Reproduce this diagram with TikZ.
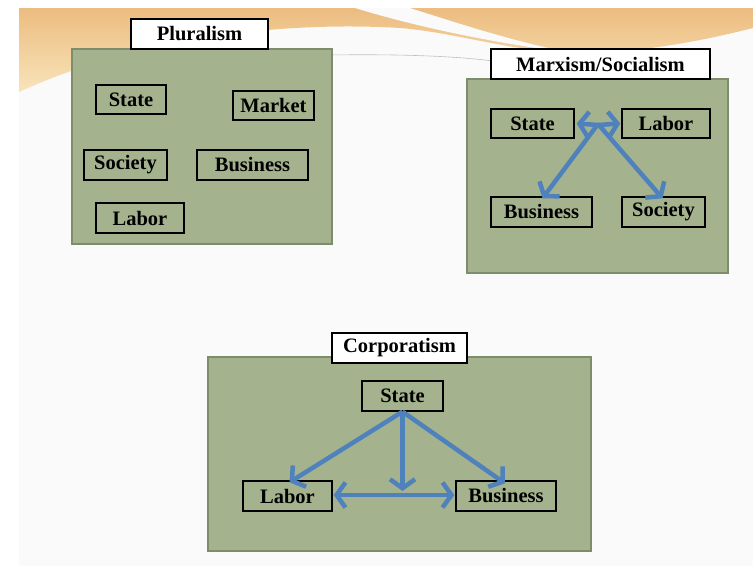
\documentclass[tikz,border=0pt]{standalone}
\usepackage{fontspec}
\setmainfont{Liberation Serif}
\usetikzlibrary{arrows.meta}
\definecolor{panelgreen}{RGB}{164,179,141}
\definecolor{panelborder}{RGB}{126,140,110}
\definecolor{arrowblue}{RGB}{79,129,189}
\definecolor{swooshtop}{RGB}{236,188,128}
\definecolor{swooshbot}{RGB}{248,228,186}
\definecolor{slidebg}{RGB}{250,250,250}
\tikzset{
  panel/.style={draw=panelborder, line width=1.8pt, fill=panelgreen, inner sep=0pt},
  titlebox/.style={draw=black, line width=1.4pt, fill=white, inner sep=0pt,
    font=\fontsize{20.5}{24}\selectfont\bfseries},
  itembox/.style={draw=black, line width=1.4pt, inner sep=0pt,
    font=\fontsize{20.5}{24}\selectfont\bfseries},
  arr/.style={draw=arrowblue, line width=4.5pt, -{Straight Barb[length=9pt,width=25pt]}},
  darr/.style={draw=arrowblue, line width=4.5pt, {Straight Barb[length=9pt,width=25pt]}-{Straight Barb[length=9pt,width=25pt]}}
}
\begin{document}
\begin{tikzpicture}[x=1pt,y=-1pt]
\useasboundingbox (0,0) rectangle (753,570);
\fill[white] (0,0) rectangle (753,570);
\fill[slidebg] (19,8) rectangle (753,566);
% swoosh
\shade[top color=swooshtop, bottom color=swooshbot]
  (19,8) -- (753,8) -- (753,28)
  .. controls (690,44) and (620,56) .. (555,52)
  .. controls (500,48) and (450,32) .. (400,28)
  .. controls (300,22) and (150,32) .. (19,92) -- cycle;
\fill[slidebg] (355,8) -- (410,8) .. controls (460,24) and (515,42) .. (572,53)
  .. controls (500,44) and (420,28) .. (355,8) -- cycle;
\draw[gray!50, line width=0.6pt] (330,55) .. controls (400,54) and (460,56) .. (500,62);

% ---------------- Pluralism
\node[panel, minimum width=260pt, minimum height=195pt] (pp) at (202,146.5) {};
\node[titlebox, minimum width=137pt, minimum height=30pt] (pt) at (199.5,34) {Pluralism};
\node[itembox, minimum width=70pt, minimum height=29pt] (ps) at (131,99.5) {State};
\node[itembox, minimum width=81pt, minimum height=29pt] (pm) at (273.5,105.5) {Market};
\node[itembox, minimum width=83pt, minimum height=30pt] (pso) at (125.5,165) {Society};
\node[itembox, minimum width=111pt, minimum height=30pt] (pb) at (252.5,165) {Business};
\node[itembox, minimum width=88pt, minimum height=30pt] (pl) at (140,218) {Labor};

% ---------------- Marxism/Socialism
\node[panel, minimum width=261pt, minimum height=194pt] (mp) at (597.5,176) {};
\node[titlebox, minimum width=219pt, minimum height=30pt] (mt) at (600.5,64) {Marxism/Socialism};
\node[itembox, minimum width=83pt, minimum height=29pt] (ms) at (532.5,123.5) {State};
\node[itembox, minimum width=88pt, minimum height=29pt] (ml) at (666,123.5) {Labor};
\node[itembox, minimum width=101pt, minimum height=30pt] (mb) at (541.5,212) {Business};
\node[itembox, minimum width=83pt, minimum height=30pt] (mso) at (663.5,212) {Society};
\coordinate (mj) at (598,125);
\draw[arr] (mj) -- ([xshift=2pt]ms.east);
\draw[arr] (mj) -- ([xshift=-1pt]ml.west);
\draw[arr] ([yshift=1pt]mj) -- ([xshift=1pt,yshift=-2pt]mb.north);
\draw[arr] ([yshift=1pt]mj) -- ([xshift=-1pt,yshift=-2pt]mso.north);

% ---------------- Corporatism
\node[panel, minimum width=383pt, minimum height=194pt] (cp) at (399.5,454) {};
\node[titlebox, minimum width=135pt, minimum height=30pt] (ct) at (399.5,348) {Corporatism};
\node[itembox, minimum width=81pt, minimum height=30pt] (cs) at (402.5,396) {State};
\node[itembox, minimum width=89pt, minimum height=30pt] (cl) at (287.5,496) {Labor};
\node[itembox, minimum width=100pt, minimum height=30pt] (cb) at (506,496) {Business};
\coordinate (cd) at (402.5,491);
\draw[arr] (cs.south) -- ([xshift=2pt,yshift=-2pt]cl.north);
\draw[arr] (cs.south) -- ([xshift=-1pt,yshift=-3pt]cb.north);
\draw[arr] (cs.south) -- (cd);
\draw[darr] ([xshift=1pt,yshift=1pt]cl.east) -- ([xshift=-1pt,yshift=1pt]cb.west);
\end{tikzpicture}
\end{document}
